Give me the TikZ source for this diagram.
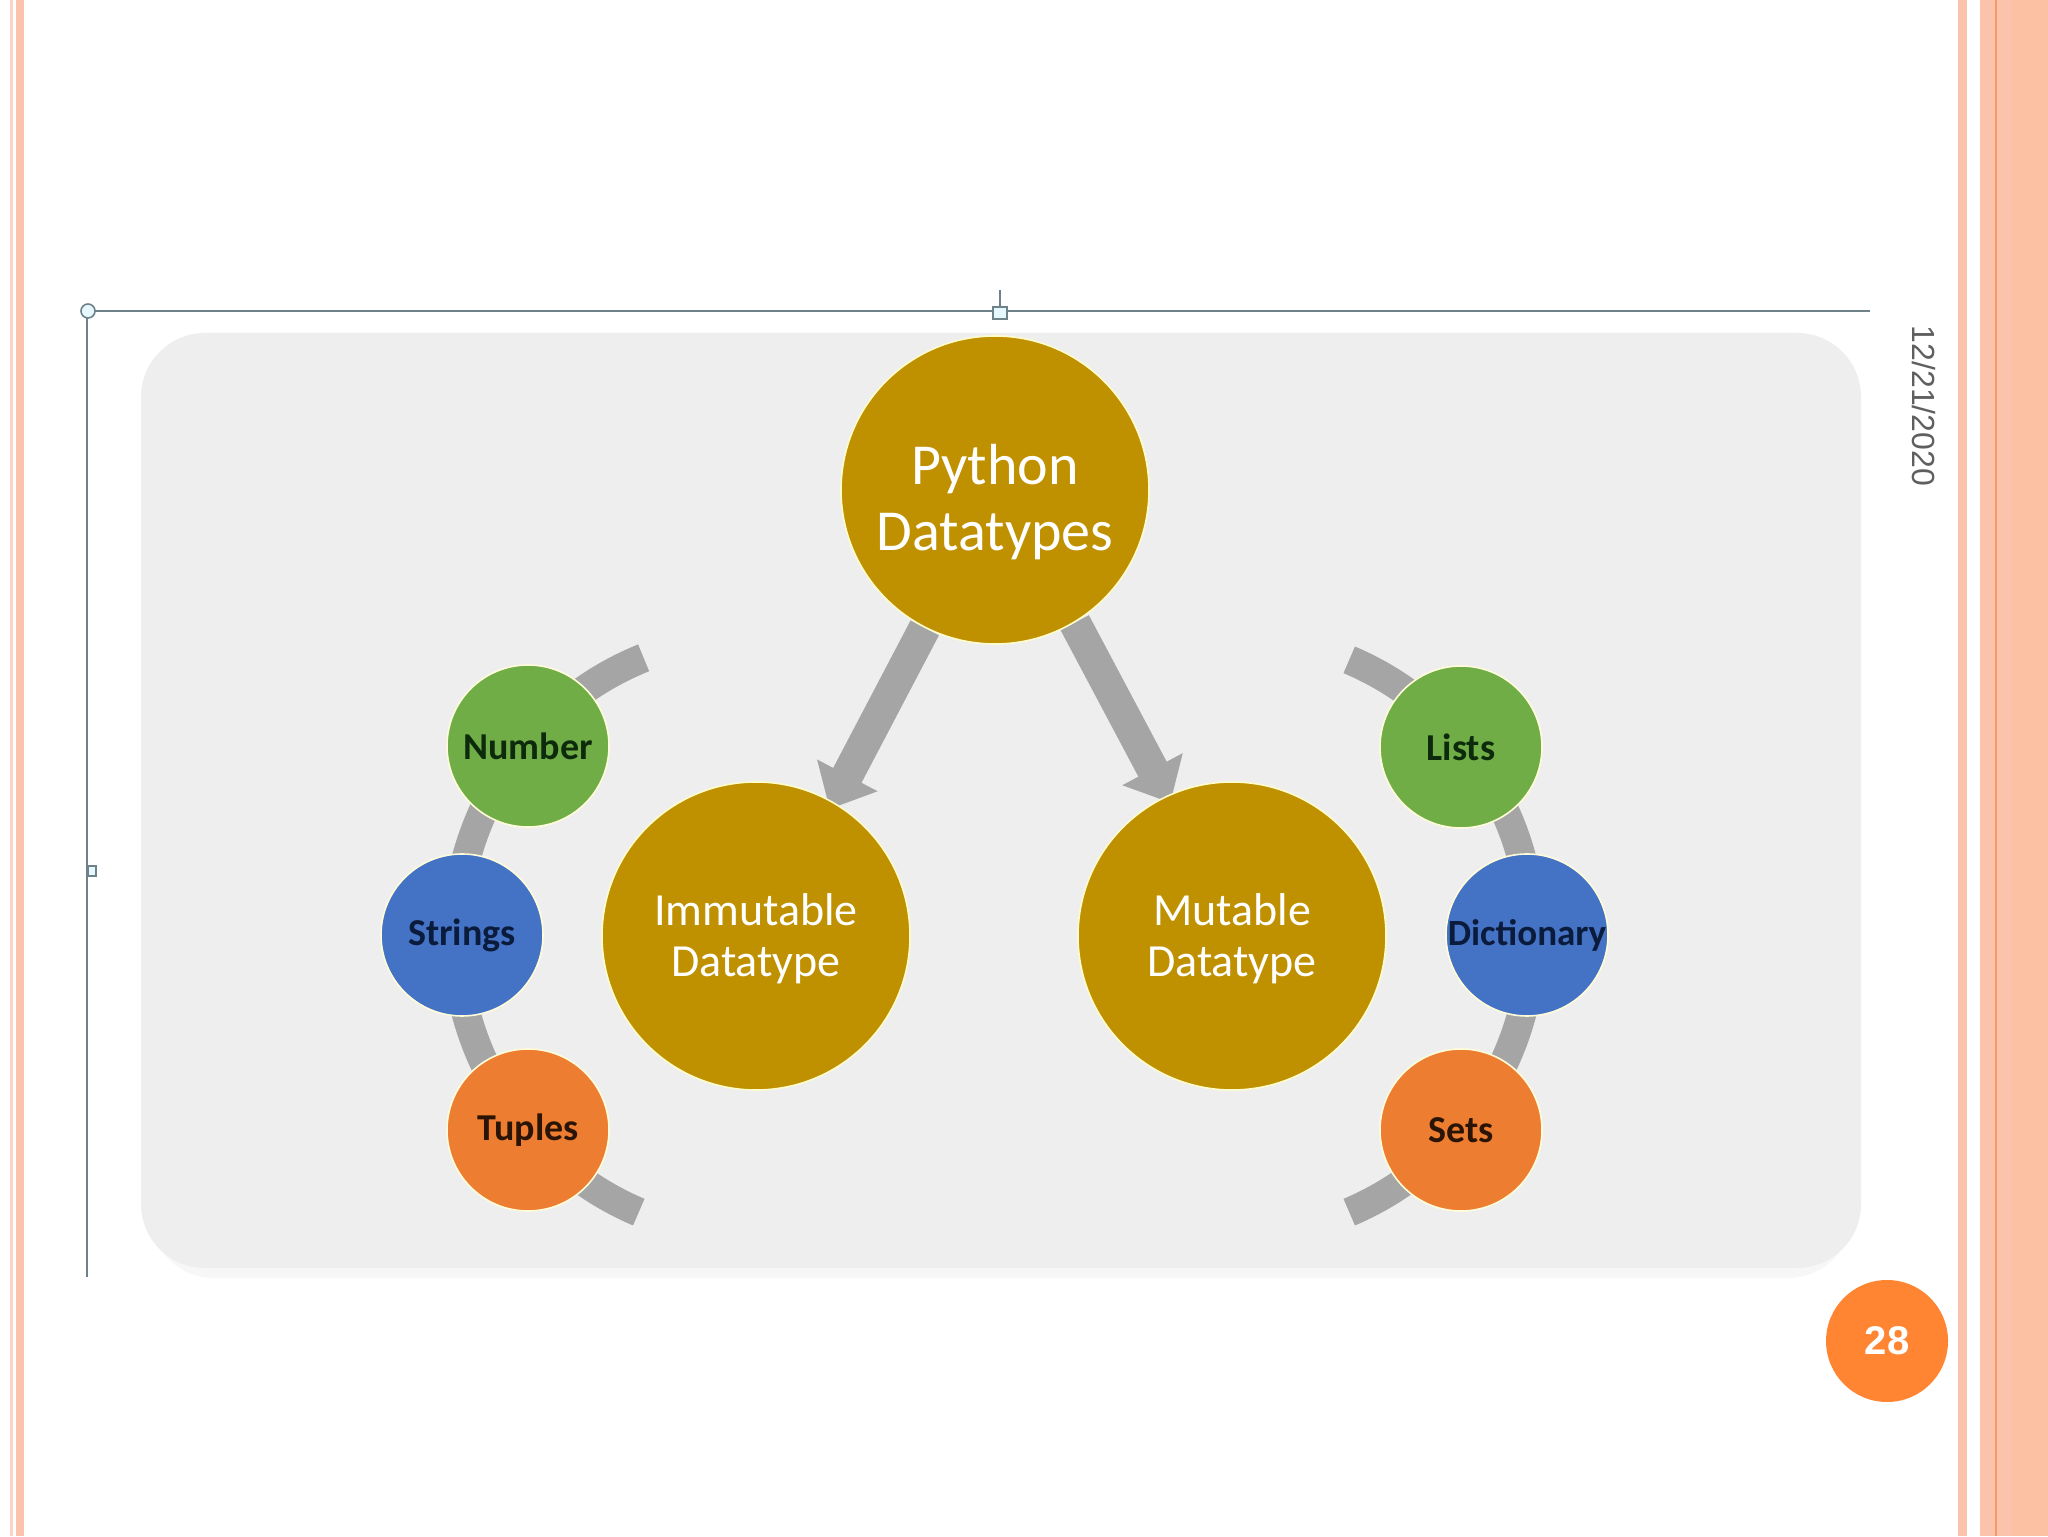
\documentclass[tikz,border=0pt]{standalone}
\usepackage{fontspec}
\setmainfont{Carlito}
\newfontfamily\arialf{Liberation Sans}
\usetikzlibrary{arrows.meta}
\definecolor{goldc}{HTML}{BF9000}
\definecolor{greenc}{HTML}{70AD47}
\definecolor{bluec}{HTML}{4472C4}
\definecolor{orangec}{HTML}{ED7D31}
\definecolor{greyc}{HTML}{A5A5A5}
\definecolor{panelc}{HTML}{EEEEEF}
\definecolor{salmon}{HTML}{FCC3AC}
\definecolor{salmonl}{HTML}{FDD3C3}
\definecolor{salmond}{HTML}{F39A66}
\definecolor{selc}{HTML}{6F8189}
\definecolor{datec}{HTML}{5F5F5F}
\definecolor{pnumc}{HTML}{FF8533}
\definecolor{tgreen}{HTML}{0E2A0C}
\definecolor{tblue}{HTML}{0B1B3C}
\definecolor{torange}{HTML}{2A1405}
\pgfdeclarelayer{back}
\pgfdeclarelayer{mid}
\pgfsetlayers{back,mid,main}
\tikzset{
  bigc/.style={circle, fill=goldc, draw=white!80!yellow, line width=0.8pt, minimum size=154pt, inner sep=0pt, align=center, text=white},
  bigtext/.style={text=white, align=center, inner sep=0pt},
  smallc/.style={circle, draw=white!85!yellow, line width=0.8pt, minimum size=81pt, inner sep=0pt, font=\bfseries\fontsize{19}{21}\selectfont},
  band/.style={draw=greyc, line width=14.5pt},
  blockarrow/.style={draw=greyc, line width=16pt, -{Triangle[width=33pt,length=19pt]}, shorten >=-4pt},
  handle/.style={draw=selc, line width=0.8pt, fill=white!90!cyan}
}
\begin{document}
\begin{tikzpicture}[x=0.5pt,y=0.5pt]
\useasboundingbox (0,0) rectangle (2048,1536);
\begin{pgfonlayer}{back}
\fill[white] (0,0) rectangle (2048,1536);
% borders
\fill[salmonl] (10,0) rectangle (13,1536);
\fill[salmon] (16,0) rectangle (24,1536);
\fill[salmon] (1958,0) rectangle (1967,1536);
\fill[salmon] (1980,0) rectangle (2048,1536);
\fill[salmond] (1995,0) rectangle (1997,1536);
\fill[salmon!95!orange] (2012,0) rectangle (2048,1536);
% panel
\fill[black!3, rounded corners=32pt] (150,258) rectangle (1852,1195);
\fill[panelc, rounded corners=32pt] (141,268) rectangle (1861,1203);
% selection frame
\draw[selc, line width=1pt] (87,259) -- (87,1225) -- (1870,1225);
\draw[selc, line width=1pt] (1000,1229) -- (1000,1246);
\end{pgfonlayer}
\node[handle, circle, minimum size=7pt, inner sep=0pt] (h1) at (88,1225) {};
\node[handle, rectangle, minimum width=7pt, minimum height=6pt, inner sep=0pt] (h2) at (1000,1223) {};
\node[handle, rectangle, minimum width=4pt, minimum height=5pt, inner sep=0pt, anchor=west] (h3) at (87,665) {};
% main circles
\node[bigc] (py) at (995,1046) {};
\node[bigtext, font=\fontsize{29}{33}\selectfont] (pyt) at (995,1034) {Python\\Datatypes};
\node[bigc] (imm) at (756,600) {};
\node[bigtext, font=\fontsize{23}{25.5}\selectfont] (immt) at (756,597) {Immutable\\Datatype};
\node[bigc] (mut) at (1232,600) {};
\node[bigtext, font=\fontsize{23}{25.5}\selectfont] (mutt) at (1232,597) {Mutable\\Datatype};
% small circles
\node[smallc, fill=greenc, text=tgreen] (num) at (528,790) {Number};
\node[smallc, fill=bluec, text=tblue] (str) at (462,601) {Strings};
\node[smallc, fill=orangec, text=torange] (tup) at (528,406) {Tuples};
\node[smallc, fill=greenc, text=tgreen] (lst) at (1461,789) {Lists};
\node[smallc, fill=bluec, text=tblue, font=\bfseries\fontsize{18.5}{21}\selectfont] (dct) at (1527,601) {Dictionary};
\node[smallc, fill=orangec, text=torange] (sets) at (1461,406) {Sets};
\begin{pgfonlayer}{mid}
\draw[band] (imm.center) ++(112:150pt) arc[start angle=112, end angle=247, radius=150pt];
\draw[band] (mut.center) ++(67:150pt) arc[start angle=67, end angle=-67, radius=150pt];
\draw[blockarrow] (py.-117) -- (imm.60);
\draw[blockarrow] (py.-59) -- (mut.115);
\end{pgfonlayer}
% date and page number
\node[rotate=-90, font=\arialf\fontsize{16}{16}\selectfont, text=datec] (date) at (1924,1130) {12/21/2020};
\node[circle, fill=pnumc, minimum size=61pt, inner sep=0pt, font=\arialf\bfseries\fontsize{20}{20}\selectfont, text=white] (pg) at (1887,195) {28};
\end{tikzpicture}
\end{document}
